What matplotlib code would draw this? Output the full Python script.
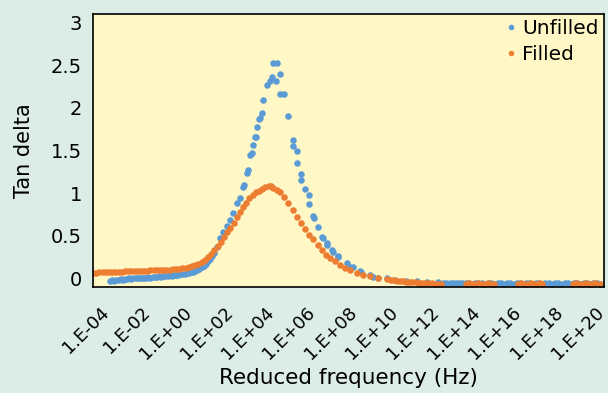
import matplotlib
matplotlib.use('Agg')
import matplotlib.pyplot as plt
import matplotlib.transforms as mtransforms
import numpy as np

plt.rcParams['font.family'] = ['DejaVu Sans']

# log10 of reduced frequency (Hz) and tan delta
unfilled_logf = [-3.2, -3.1, -3.0, -2.9, -2.8, -2.7, -2.6, -2.5, -2.4, -2.3, -2.2, -2.1, -2.0,
                 -1.9, -1.8, -1.7, -1.6, -1.5, -1.4, -1.3, -1.2, -1.1, -1.0, -0.9, -0.8, -0.7,
                 -0.6, -0.5, -0.4, -0.3, -0.2, -0.1, 0.0, 0.1, 0.2, 0.3, 0.4, 0.5, 0.6, 0.7,
                 0.8, 0.9, 1.0, 1.1, 1.2, 1.3, 1.4, 1.5, 1.6, 1.7, 1.82, 1.96, 2.1, 2.28, 2.43,
                 2.58, 2.75, 2.9, 3.05, 3.1, 3.22, 3.28, 3.37, 3.47, 3.5, 3.6, 3.66, 3.71, 3.79,
                 3.84, 3.92, 4.0, 4.15, 4.31, 4.39, 4.44, 4.6, 4.63, 4.78, 4.78, 4.97, 5.17,
                 5.38, 5.38, 5.56, 5.56, 5.77, 5.77, 5.96, 6.16, 6.16, 6.33, 6.36, 6.55, 6.74,
                 6.79, 6.97, 7.0, 7.22, 7.28, 7.5, 7.52, 7.91, 8.07, 8.22, 8.54, 8.61, 9.0,
                 9.15, 9.4, 9.8, 10.2, 10.72, 11.2, 11.7, 12.2,
                 12.45, 12.6, 12.75, 12.9, 13.05, 13.2, 13.35, 13.5, 13.65, 13.8, 13.95, 14.1,
                 14.25, 14.4, 14.55, 14.7, 14.85, 15.0, 15.15, 15.3, 15.45, 15.6, 15.75, 15.9,
                 16.05, 16.2, 16.35, 16.5, 16.65, 16.8, 16.95, 17.1, 17.25, 17.4, 17.55, 17.7,
                 17.85, 18.0, 18.15, 18.3, 18.45, 18.6, 18.75, 18.9, 19.05, 19.2, 19.35, 19.5,
                 19.65, 19.8]
unfilled_tan = [-0.03, -0.02, -0.03, -0.02, -0.02, -0.01, -0.02, -0.01, -0.01, 0.0, -0.01, 0.0, 0.0,
                0.01, 0.0, 0.01, 0.01, 0.01, 0.02, 0.01, 0.02, 0.02, 0.02, 0.03, 0.02, 0.03,
                0.03, 0.03, 0.04, 0.03, 0.04, 0.04, 0.04, 0.05, 0.05, 0.05, 0.06, 0.06, 0.07, 0.08,
                0.09, 0.1, 0.11, 0.13, 0.15, 0.17, 0.2, 0.23, 0.26, 0.3, 0.37, 0.47, 0.54, 0.61, 0.69,
                0.77, 0.88, 0.94, 1.07, 1.10, 1.24, 1.27, 1.45, 1.47, 1.56, 1.66, 1.66, 1.77, 1.87,
                1.88, 1.94, 2.09, 2.27, 2.31, 2.36, 2.53, 2.31, 2.53, 2.40, 2.16, 2.16, 1.90,
                1.62, 1.55, 1.49, 1.35, 1.23, 1.15, 1.05, 0.98, 0.87, 0.73, 0.71, 0.60, 0.49,
                0.48, 0.39, 0.41, 0.33, 0.31, 0.25, 0.26, 0.18, 0.13, 0.14, 0.09, 0.08, 0.04,
                0.02, 0.01, 0.0, -0.015, -0.025, -0.035, -0.04, -0.045,
                -0.05, -0.05, -0.055, -0.05, -0.055, -0.055, -0.05, -0.055, -0.055, -0.06, -0.055, -0.055,
                -0.055, -0.06, -0.055, -0.055, -0.06, -0.055, -0.055, -0.06, -0.055, -0.055, -0.06, -0.055,
                -0.055, -0.06, -0.055, -0.055, -0.06, -0.055, -0.055, -0.06, -0.055, -0.055, -0.06, -0.055,
                -0.055, -0.06, -0.055, -0.055, -0.06, -0.055, -0.055, -0.06, -0.055, -0.055, -0.06, -0.055,
                -0.055, -0.06]

filled_logf = [-4.0, -3.85, -3.7, -3.55, -3.4, -3.25, -3.1, -2.95, -2.8, -2.65, -2.5, -2.35, -2.2,
               -2.05, -1.9, -1.75, -1.6, -1.45, -1.3, -1.15, -1.0, -0.85, -0.7, -0.55, -0.4, -0.25,
               -0.1, 0.05, 0.2, 0.35, 0.5, 0.65, 0.8, 0.95, 1.1, 1.25, 1.4, 1.55, 1.7, 1.85, 2.0,
               2.15, 2.3, 2.45, 2.6, 2.75, 2.9, 3.05, 3.2, 3.35, 3.5, 3.65, 3.8, 3.95, 4.1, 4.25,
               4.35, 4.47, 4.63, 4.78, 4.98, 5.17, 5.38, 5.56, 5.77, 5.96, 6.16, 6.35, 6.55, 6.75,
               6.95, 7.13, 7.35, 7.6, 7.85, 8.07, 8.38, 8.7, 9.0, 9.4, 9.79, 10.0, 10.15, 10.26,
               10.4, 10.55, 10.7, 10.85, 11.0, 11.15, 11.3, 11.45, 11.6, 11.75, 11.9, 12.05, 12.2,
               12.35,
               13.5, 13.65, 13.8, 13.95, 14.1, 14.25, 14.4, 14.55, 14.7, 14.85,
               15.95, 16.1, 16.25, 16.4, 16.55, 16.7, 16.85, 17.0, 17.1,
               18.55, 18.7, 18.85, 19.0, 19.15, 19.3, 19.45, 19.6, 19.8]
filled_tan = [0.06, 0.065, 0.07, 0.07, 0.075, 0.075, 0.08, 0.08, 0.08, 0.08, 0.085, 0.085, 0.085,
              0.09, 0.09, 0.09, 0.09, 0.09, 0.095, 0.095, 0.095, 0.1, 0.1, 0.1, 0.105, 0.11,
              0.11, 0.115, 0.12, 0.125, 0.135, 0.145, 0.16, 0.175, 0.195, 0.22, 0.25, 0.29, 0.33, 0.38, 0.43,
              0.49, 0.54, 0.59, 0.65, 0.72, 0.78, 0.84, 0.89, 0.94, 0.98, 1.01, 1.03, 1.05, 1.07, 1.08,
              1.08, 1.06, 1.04, 1.01, 0.96, 0.89, 0.80, 0.72, 0.65, 0.58, 0.51, 0.46, 0.39, 0.33,
              0.28, 0.24, 0.2, 0.16, 0.12, 0.10, 0.06, 0.045, 0.03, 0.01, -0.01, -0.02, -0.02, -0.025,
              -0.03, -0.035, -0.04, -0.04, -0.045, -0.045, -0.05, -0.05, -0.055, -0.055, -0.055, -0.06, -0.06,
              -0.06,
              -0.06, -0.055, -0.06, -0.06, -0.055, -0.06, -0.06, -0.055, -0.06, -0.06,
              -0.06, -0.055, -0.06, -0.06, -0.055, -0.06, -0.06, -0.055, -0.06,
              -0.06, -0.055, -0.06, -0.06, -0.055, -0.06, -0.06, -0.055, -0.06]

x_ticks_exp = [-4, -2, 0, 2, 4, 6, 8, 10, 12, 14, 16, 18, 20]
x_tick_labels = ['1.E-04', '1.E-02', '1.E+00', '1.E+02', '1.E+04', '1.E+06', '1.E+08',
                 '1.E+10', '1.E+12', '1.E+14', '1.E+16', '1.E+18', '1.E+20']
y_ticks = [0, 0.5, 1, 1.5, 2, 2.5, 3]
y_tick_labels = ['0', '0.5', '1', '1.5', '2', '2.5', '3']

fig = plt.figure(figsize=(6.08, 3.93), dpi=100)
fig.patch.set_facecolor('#dcede8')
ax = fig.add_axes([93/608, 1 - 287/393, 511/608, 273/393])
ax.set_facecolor('#fff8c6')

ax.plot(10.0 ** np.array(unfilled_logf), unfilled_tan, 'o', color='#5b9bd5', ms=4.7,
        mew=0, label='Unfilled')
ax.plot(10.0 ** np.array(filled_logf), filled_tan, 'o', color='#ed7d31', ms=4.7,
        mew=0, label='Filled')

ax.set_xscale('log')
ax.set_xlim(1e-4, 1e20)
ax.set_ylim(-0.1, 3.1)
ax.set_xticks([10.0 ** e for e in x_ticks_exp])
ax.set_xticklabels(x_tick_labels, rotation=45, ha='right', va='top', rotation_mode='anchor')
ax.minorticks_off()
ax.set_yticks(y_ticks)
ax.set_yticklabels(y_tick_labels)
ax.tick_params(axis='y', length=0, labelsize=14, pad=8)
ax.tick_params(axis='x', length=0, labelsize=13, pad=12)
# excel nudges the labels a little so the last one fits in the picture
for i, lab in enumerate(ax.get_xticklabels()):
    dx = (7 - 1.35 * i) / 100
    lab.set_transform(lab.get_transform() + mtransforms.ScaledTranslation(dx, 0, fig.dpi_scale_trans))
for s in ax.spines.values():
    s.set_color('black')
    s.set_linewidth(1.2)

ax.set_ylabel('Tan delta', fontsize=15)
ax.yaxis.set_label_coords(-0.115, 0.5)
ax.set_xlabel('Reduced frequency (Hz)', fontsize=15.5)
ax.xaxis.set_label_coords(0.5, -0.295)

ax.legend(loc='upper right', frameon=False, fontsize=14.5, handletextpad=0.15,
          borderaxespad=0.0, labelspacing=0.33, markerscale=0.85,
          bbox_to_anchor=(1.005, 1.01), handlelength=0.8)

fig.savefig('out.png', dpi=100, facecolor=fig.get_facecolor())
